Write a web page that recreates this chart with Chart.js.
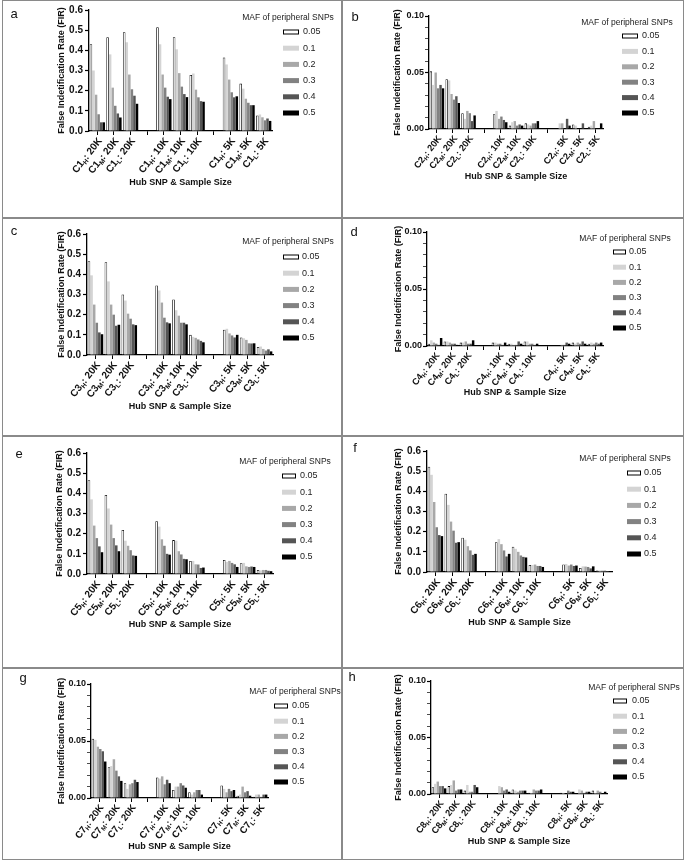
<!DOCTYPE html>
<html>
<head>
<meta charset="utf-8">
<script src="https://cdn.jsdelivr.net/npm/chart.js@4.4.1/dist/chart.umd.min.js"></script>
<style>
  body { margin: 0; background: #fff; }
  #fig { position: relative; width: 685px; height: 864px; background: #fff; }
  .panel { position: absolute; box-sizing: border-box; border: 1px solid #8a8a8a; }
  .panel canvas { position: absolute; left: 0; top: 0; }
  .tag { position: absolute; font: 13px "Liberation Sans", Arial, sans-serif; color: #111;
         line-height: 1; transform: translate(-50%, -50%); }
</style>
</head>
<body>
<div id="fig"></div>
<script>
/* FIR of hub SNP detection, 8 panels (C1..C8) */

const MAF = ['0.05', '0.1', '0.2', '0.3', '0.4', '0.5'];
const MAF_COLORS = ['#ffffff', '#d4d4d4', '#a8a8a8', '#828282', '#555555', '#000000'];
const HUB = ['H', 'M', 'L'];
const SAMPLE = ['20K', '10K', '5K'];
const TICKS_WIDE = [0, 0.1, 0.2, 0.3, 0.4, 0.5, 0.6];
const TICKS_NARROW = [0, 0.05, 0.10];

// rows: H/M/L at 20K, then 10K, then 5K ; columns: MAF 0.05 .. 0.5
const firA = [
  [0.430, 0.300, 0.180, 0.083, 0.043, 0.043],
  [0.465, 0.380, 0.215, 0.125, 0.087, 0.067],
  [0.490, 0.440, 0.280, 0.207, 0.175, 0.135],
  [0.515, 0.430, 0.280, 0.215, 0.170, 0.158],
  [0.465, 0.405, 0.287, 0.220, 0.183, 0.168],
  [0.278, 0.285, 0.205, 0.167, 0.148, 0.145],
  [0.365, 0.330, 0.255, 0.192, 0.167, 0.172],
  [0.235, 0.210, 0.160, 0.140, 0.128, 0.128],
  [0.077, 0.082, 0.068, 0.053, 0.062, 0.050]
];
const firB = [
  [0.051, 0.039, 0.050, 0.036, 0.039, 0.036],
  [0.044, 0.043, 0.031, 0.026, 0.029, 0.023],
  [0.014, 0.009, 0.016, 0.014, 0.007, 0.012],
  [0.013, 0.016, 0.009, 0.011, 0.008, 0.006],
  [0.003, 0.006, 0.007, 0.003, 0.004, 0.003],
  [0.005, 0.004, 0.003, 0.005, 0.005, 0.007],
  [0.000, 0.005, 0.005, 0.000, 0.009, 0.003],
  [0.004, 0.003, 0.000, 0.000, 0.005, 0.000],
  [0.002, 0.003, 0.007, 0.000, 0.000, 0.005]
];
const firC = [
  [0.465, 0.395, 0.250, 0.160, 0.112, 0.103],
  [0.460, 0.365, 0.250, 0.200, 0.145, 0.150],
  [0.300, 0.270, 0.205, 0.180, 0.152, 0.148],
  [0.345, 0.320, 0.260, 0.185, 0.162, 0.157],
  [0.275, 0.222, 0.195, 0.160, 0.160, 0.152],
  [0.100, 0.090, 0.085, 0.077, 0.070, 0.063],
  [0.125, 0.130, 0.107, 0.097, 0.087, 0.100],
  [0.087, 0.083, 0.075, 0.058, 0.057, 0.058],
  [0.040, 0.042, 0.030, 0.022, 0.028, 0.018]
];
const firD = [
  [0.002, 0.005, 0.003, 0.002, 0.001, 0.007],
  [0.004, 0.004, 0.003, 0.002, 0.002, 0.001],
  [0.003, 0.003, 0.004, 0.002, 0.002, 0.005],
  [0.003, 0.003, 0.002, 0.002, 0.001, 0.003],
  [0.002, 0.002, 0.001, 0.001, 0.004, 0.002],
  [0.004, 0.004, 0.002, 0.002, 0.001, 0.002],
  [0.000, 0.000, 0.001, 0.001, 0.003, 0.002],
  [0.003, 0.002, 0.003, 0.002, 0.004, 0.002],
  [0.002, 0.003, 0.002, 0.003, 0.002, 0.003]
];
const firE = [
  [0.465, 0.370, 0.240, 0.178, 0.137, 0.108],
  [0.392, 0.325, 0.245, 0.178, 0.142, 0.113],
  [0.218, 0.165, 0.140, 0.118, 0.092, 0.090],
  [0.262, 0.235, 0.172, 0.140, 0.100, 0.096],
  [0.168, 0.165, 0.113, 0.097, 0.075, 0.073],
  [0.065, 0.065, 0.048, 0.047, 0.030, 0.032],
  [0.070, 0.060, 0.065, 0.055, 0.048, 0.035],
  [0.053, 0.055, 0.038, 0.035, 0.037, 0.035],
  [0.020, 0.018, 0.020, 0.020, 0.016, 0.014]
];
const firF = [
  [0.522, 0.482, 0.347, 0.222, 0.183, 0.178],
  [0.388, 0.333, 0.250, 0.205, 0.145, 0.148],
  [0.170, 0.160, 0.128, 0.107, 0.085, 0.090],
  [0.148, 0.163, 0.138, 0.107, 0.077, 0.090],
  [0.125, 0.115, 0.100, 0.082, 0.075, 0.072],
  [0.035, 0.035, 0.037, 0.030, 0.030, 0.025],
  [0.037, 0.040, 0.032, 0.037, 0.030, 0.032],
  [0.020, 0.028, 0.027, 0.025, 0.018, 0.028],
  [0.007, 0.008, 0.007, 0.007, 0.005, 0.005]
];
const firG = [
  [0.052, 0.051, 0.045, 0.043, 0.041, 0.032],
  [0.027, 0.028, 0.034, 0.024, 0.019, 0.015],
  [0.013, 0.008, 0.012, 0.013, 0.016, 0.014],
  [0.018, 0.017, 0.019, 0.012, 0.016, 0.013],
  [0.007, 0.010, 0.010, 0.013, 0.011, 0.009],
  [0.005, 0.003, 0.005, 0.007, 0.007, 0.003],
  [0.011, 0.008, 0.005, 0.008, 0.006, 0.007],
  [0.002, 0.003, 0.010, 0.005, 0.006, 0.002],
  [0.001, 0.003, 0.003, 0.001, 0.003, 0.003]
];
const firH = [
  [0.006, 0.009, 0.011, 0.007, 0.007, 0.005],
  [0.007, 0.008, 0.012, 0.003, 0.004, 0.004],
  [0.003, 0.008, 0.002, 0.002, 0.008, 0.006],
  [0.000, 0.007, 0.006, 0.003, 0.004, 0.002],
  [0.004, 0.003, 0.002, 0.003, 0.003, 0.003],
  [0.001, 0.001, 0.004, 0.003, 0.003, 0.004],
  [0.001, 0.001, 0.000, 0.003, 0.002, 0.002],
  [0.000, 0.004, 0.003, 0.001, 0.002, 0.002],
  [0.003, 0.001, 0.003, 0.002, 0.000, 0.002]
];

const FONT = '"Liberation Sans", Arial, sans-serif';
Chart.defaults.font.family = FONT;
Chart.defaults.color = '#111';

/* ── panel layout (px, local to each panel) ─────────────────────── */
const PANELS = [
  { tag: 'a', name: 'C1', rows: firA, ticks: TICKS_WIDE, x: 2, y: 0, w: 340, h: 218, labelSize: 10,
    left: 86, right: 269, top: 9, bottom: 130, yTitleX: 59, xTitleY: 182, tagX: 11, tagY: 12,
    leg: { titleX: 285, titleY: 17, boxX: 280, boxW: 16, textX: 300, top: 31, step: 16.2 } },
  { tag: 'b', name: 'C2', rows: firB, ticks: TICKS_NARROW, x: 342, y: 0, w: 342, h: 218, labelSize: 9.2,
    left: 86, right: 260, top: 15, bottom: 128, yTitleX: 55, xTitleY: 176, tagX: 12, tagY: 15,
    leg: { titleX: 284, titleY: 22, boxX: 279, boxW: 16, textX: 299, top: 35, step: 15.4 } },
  { tag: 'c', name: 'C3', rows: firC, ticks: TICKS_WIDE, x: 2, y: 218, w: 340, h: 218, labelSize: 10,
    left: 84, right: 270, top: 15, bottom: 136, yTitleX: 59, xTitleY: 188, tagX: 11, tagY: 11,
    leg: { titleX: 285, titleY: 23, boxX: 280, boxW: 16, textX: 299, top: 38, step: 16.2 } },
  { tag: 'd', name: 'C4', rows: firD, ticks: TICKS_NARROW, x: 342, y: 218, w: 342, h: 218, labelSize: 9.2,
    left: 84, right: 260, top: 13, bottom: 127, yTitleX: 56, xTitleY: 174, tagX: 11, tagY: 12,
    leg: { titleX: 282, titleY: 20, boxX: 270, boxW: 13, textX: 286, top: 33, step: 15.2 } },
  { tag: 'e', name: 'C5', rows: firE, ticks: TICKS_WIDE, x: 2, y: 436, w: 340, h: 232, labelSize: 10,
    left: 84, right: 270, top: 16, bottom: 137, yTitleX: 57, xTitleY: 188, tagX: 16, tagY: 16,
    leg: { titleX: 282, titleY: 25, boxX: 279, boxW: 14, textX: 297, top: 39, step: 16.2 } },
  { tag: 'f', name: 'C6', rows: firF, ticks: TICKS_WIDE, x: 342, y: 436, w: 342, h: 232, labelSize: 10,
    left: 84, right: 269, top: 14, bottom: 135, yTitleX: 56, xTitleY: 186, tagX: 12, tagY: 10,
    leg: { titleX: 282, titleY: 22, boxX: 284, boxW: 14, textX: 301, top: 36, step: 16.2 } },
  { tag: 'g', name: 'C7', rows: firG, ticks: TICKS_NARROW, x: 2, y: 668, w: 340, h: 192, labelSize: 9.6,
    left: 88, right: 265, top: 15, bottom: 129, yTitleX: 59, xTitleY: 178, tagX: 20, tagY: 8,
    leg: { titleX: 292, titleY: 23, boxX: 271, boxW: 14, textX: 289, top: 37, step: 15.2 } },
  { tag: 'h', name: 'C8', rows: firH, ticks: TICKS_NARROW, x: 342, y: 668, w: 342, h: 192, labelSize: 9.2,
    left: 88, right: 264, top: 12, bottom: 125, yTitleX: 56, xTitleY: 173, tagX: 9, tagY: 7,
    leg: { titleX: 291, titleY: 19, boxX: 270, boxW: 14, textX: 289, top: 32, step: 15.2 } }
];

// 11 slots: 3 hubs per sample size, one empty slot between sizes
function slotLabels(name) {
  const out = [];
  SAMPLE.forEach((s, k) => {
    if (k) out.push('');
    HUB.forEach(h => out.push(name + h + ': ' + s));
  });
  return out;
}
function slotValues(rows, m) {
  const out = [];
  SAMPLE.forEach((s, k) => {
    if (k) out.push(null);
    HUB.forEach((h, j) => out.push(rows[k * 3 + j][m]));
  });
  return out;
}

/* legend drawn inside the panel, overlapping the plot box like the original */
const mafLegend = {
  id: 'mafLegend',
  afterDraw(chart, args, o) {
    const ctx = chart.ctx;
    ctx.save();
    ctx.fillStyle = '#222';
    ctx.textBaseline = 'middle';
    ctx.textAlign = 'center';
    ctx.font = '8.5px ' + FONT;
    ctx.fillText('MAF of peripheral SNPs', o.titleX, o.titleY);
    ctx.textAlign = 'left';
    ctx.font = '9px ' + FONT;
    chart.data.datasets.forEach((ds, i) => {
      const y = o.top + i * o.step;
      ctx.fillStyle = ds.backgroundColor;
      ctx.fillRect(o.boxX, y - 2.5, o.boxW, 5);
      if (ds.borderWidth) {
        ctx.strokeStyle = '#000';
        ctx.lineWidth = 1;
        ctx.strokeRect(o.boxX + 0.5, y - 2, o.boxW - 1, 4);
      }
      ctx.fillStyle = '#222';
      ctx.fillText(ds.label, o.textX, y);
    });
    ctx.restore();
  }
};

/* rotated category labels with subscript hub level */
const subLabels = {
  id: 'subLabels',
  afterDraw(chart, args, o) {
    const xs = chart.scales.x, ctx = chart.ctx;
    const big = 'bold ' + o.size + 'px ' + FONT, small = 'bold ' + (o.size * 0.65).toFixed(1) + 'px ' + FONT;
    chart.data.labels.forEach((lab, i) => {
      const m = /^(C\d)([HML])(: .*)$/.exec(lab);
      if (!m) return;
      ctx.save();
      ctx.fillStyle = '#111';
      ctx.textBaseline = 'middle';
      ctx.textAlign = 'left';
      ctx.font = big;
      const w1 = ctx.measureText(m[1]).width, w3 = ctx.measureText(m[3]).width;
      ctx.font = small;
      const w2 = ctx.measureText(m[2]).width;
      ctx.translate(xs.getPixelForTick(i) + 3, xs.top + 8);
      ctx.rotate(-52 * Math.PI / 180);
      let cx = -(w1 + w2 + w3);
      ctx.font = big;  ctx.fillText(m[1], cx, 0); cx += w1;
      ctx.font = small; ctx.fillText(m[2], cx, o.size * 0.28); cx += w2;
      ctx.font = big;  ctx.fillText(m[3], cx, 0);
      ctx.restore();
    });
  }
};

const fig = document.getElementById('fig');

PANELS.forEach(p => {
  const panel = document.createElement('div');
  panel.className = 'panel';
  Object.assign(panel.style, { left: p.x + 'px', top: p.y + 'px', width: p.w + 'px', height: p.h + 'px' });
  const W = p.w - 2, H = p.h - 2;
  const canvas = document.createElement('canvas');
  canvas.width = W; canvas.height = H;
  canvas.style.width = W + 'px'; canvas.style.height = H + 'px';
  panel.appendChild(canvas);
  const tag = document.createElement('span');
  tag.className = 'tag';
  tag.textContent = p.tag;
  tag.style.left = p.tagX + 'px'; tag.style.top = p.tagY + 'px';
  panel.appendChild(tag);
  fig.appendChild(panel);

  const yMax = p.ticks[p.ticks.length - 1];
  const narrow = yMax < 0.2;
  const isMajor = v => narrow ? Math.abs(Math.round(v * 100) % 5) === 0 : true;

  new Chart(canvas, {
    type: 'bar',
    data: {
      labels: slotLabels(p.name),
      datasets: MAF.map((m, i) => ({
        label: m,
        data: slotValues(p.rows, i),
        backgroundColor: MAF_COLORS[i],
        borderColor: '#000',
        borderWidth: i === 0 ? 0.8 : 0,
        categoryPercentage: 0.92,
        barPercentage: 1
      }))
    },
    options: {
      responsive: false,
      animation: false,
      layout: { padding: { left: 0, top: p.top, right: W - p.right, bottom: 0 } },
      plugins: {
        legend: { display: false },
        tooltip: { enabled: false },
        mafLegend: p.leg,
        subLabels: { size: p.labelSize }
      },
      scales: {
        x: {
          afterFit: s => { s.height = H - p.bottom; },
          ticks: { display: false },
          grid: { display: true, drawOnChartArea: false, drawTicks: true, tickLength: 4, offset: false, color: '#000', lineWidth: 1 },
          border: { color: '#000', width: 1.3 },
          title: { display: true, text: 'Hub SNP & Sample Size', color: '#111',
                   font: { family: FONT, size: 9, weight: 'bold' },
                   padding: { top: 0, bottom: H - p.xTitleY - 5.4 } }
        },
        y: {
          min: 0, max: yMax,
          afterFit: s => { s.width = p.left; },
          ticks: {
            stepSize: narrow ? 0.01 : 0.1,
            autoSkip: false,
            padding: narrow ? 1 : 2,
            color: '#111',
            font: { family: FONT, size: narrow ? 9 : 10, weight: 'bold' },
            callback: v => isMajor(v) ? v.toFixed(narrow ? 2 : 1) : ''
          },
          grid: { display: true, drawOnChartArea: false, drawTicks: true, tickLength: 4, color: '#000',
                  tickWidth: c => (c.tick && isMajor(c.tick.value)) ? 1.2 : 0.7 },
          border: { color: '#000', width: 1.3 },
          title: { display: true, text: 'False Indetification Rate (FIR)', color: '#111',
                   font: { family: FONT, size: 9, weight: 'bold' },
                   padding: { top: p.yTitleX - 5.4, bottom: 0 } }
        }
      }
    },
    plugins: [mafLegend, subLabels]
  });
});
</script>
</body>
</html>
